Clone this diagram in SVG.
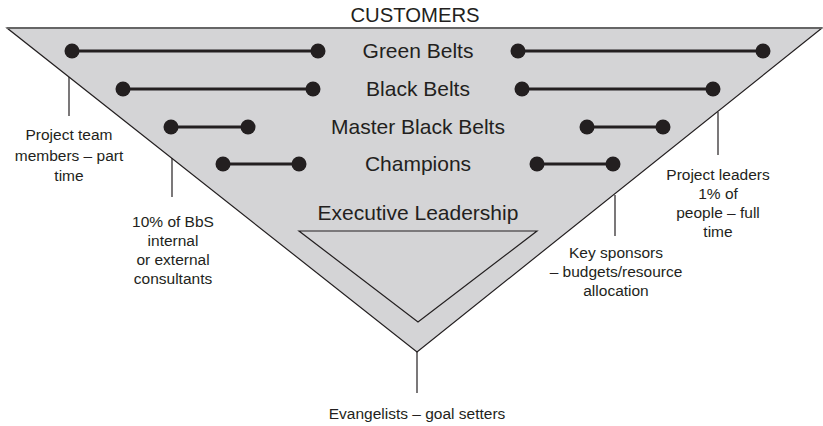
<svg xmlns="http://www.w3.org/2000/svg" width="823" height="426" viewBox="0 0 823 426">
<style>
.big{font-family:"Liberation Sans",Arial,sans-serif;font-size:21px;fill:#231f20;text-anchor:middle}
.sm{font-family:"Liberation Sans",Arial,sans-serif;font-size:15.5px;fill:#231f20;text-anchor:middle}
.bar{stroke:#231f20;stroke-width:3.2;fill:none}
.dot{fill:#231f20}
.lead{stroke:#231f20;stroke-width:1.2;fill:none}
</style>
<rect width="823" height="426" fill="#fff"/>
<g id="pyramid">
<polygon points="7,28 822,28 417,352" fill="#d4d4d6" stroke="#231f20" stroke-width="1.2"/>
<line x1="7" y1="28" x2="822" y2="28" stroke="#666" stroke-width="2.2"/>
</g>
<g id="customers"><text class="big" x="415" y="22" style="font-size:20.3px">CUSTOMERS</text></g>
<g id="green-belts">
<text class="big" x="418" y="58">Green Belts</text>
<line class="bar" x1="72" y1="51" x2="318" y2="51"/><circle class="dot" cx="72" cy="51" r="7.5"/><circle class="dot" cx="318" cy="51" r="7.5"/>
<line class="bar" x1="518" y1="51" x2="763" y2="51"/><circle class="dot" cx="518" cy="51" r="7.5"/><circle class="dot" cx="763" cy="51" r="7.5"/>
</g>
<g id="black-belts">
<text class="big" x="418" y="96">Black Belts</text>
<line class="bar" x1="123" y1="89" x2="313" y2="89"/><circle class="dot" cx="123" cy="89" r="7.5"/><circle class="dot" cx="313" cy="89" r="7.5"/>
<line class="bar" x1="522" y1="89" x2="713" y2="89"/><circle class="dot" cx="522" cy="89" r="7.5"/><circle class="dot" cx="713" cy="89" r="7.5"/>
</g>
<g id="master-black-belts">
<text class="big" x="418" y="134">Master Black Belts</text>
<line class="bar" x1="171" y1="127" x2="248" y2="127"/><circle class="dot" cx="171" cy="127" r="7.5"/><circle class="dot" cx="248" cy="127" r="7.5"/>
<line class="bar" x1="587" y1="127" x2="663" y2="127"/><circle class="dot" cx="587" cy="127" r="7.5"/><circle class="dot" cx="663" cy="127" r="7.5"/>
</g>
<g id="champions">
<text class="big" x="418" y="171">Champions</text>
<line class="bar" x1="223" y1="164" x2="299" y2="164"/><circle class="dot" cx="223" cy="164" r="7.5"/><circle class="dot" cx="299" cy="164" r="7.5"/>
<line class="bar" x1="537" y1="164" x2="613" y2="164"/><circle class="dot" cx="537" cy="164" r="7.5"/><circle class="dot" cx="613" cy="164" r="7.5"/>
</g>
<g id="executive-leadership">
<text class="big" x="418" y="220">Executive Leadership</text>
<polygon points="299,231 537,231 418,322" fill="none" stroke="#231f20" stroke-width="1.2"/>
</g>
<g id="connectors">
<line class="lead" x1="69" y1="77" x2="69" y2="116"/>
<line class="lead" x1="172" y1="158" x2="172" y2="197"/>
<line class="lead" x1="718" y1="112" x2="718" y2="155"/>
<line class="lead" x1="615" y1="195" x2="615" y2="236"/>
<line class="lead" x1="417" y1="352" x2="417" y2="393"/>
</g>
<g id="label-project-team">
<text class="sm" x="69" y="140">Project team</text>
<text class="sm" x="69" y="161">members – part</text>
<text class="sm" x="69" y="181">time</text>
</g>
<g id="label-bbs">
<text class="sm" x="173" y="227">10% of BbS</text>
<text class="sm" x="173" y="246">internal</text>
<text class="sm" x="173" y="265">or external</text>
<text class="sm" x="173" y="284">consultants</text>
</g>
<g id="label-project-leaders">
<text class="sm" x="718" y="180">Project leaders</text>
<text class="sm" x="718" y="199">1% of</text>
<text class="sm" x="718" y="218">people – full</text>
<text class="sm" x="718" y="237">time</text>
</g>
<g id="label-key-sponsors">
<text class="sm" x="616" y="258">Key sponsors</text>
<text class="sm" x="616" y="277">– budgets/resource</text>
<text class="sm" x="616" y="296">allocation</text>
</g>
<g id="label-evangelists">
<text class="sm" x="417" y="419">Evangelists – goal setters</text>
</g>
</svg>
